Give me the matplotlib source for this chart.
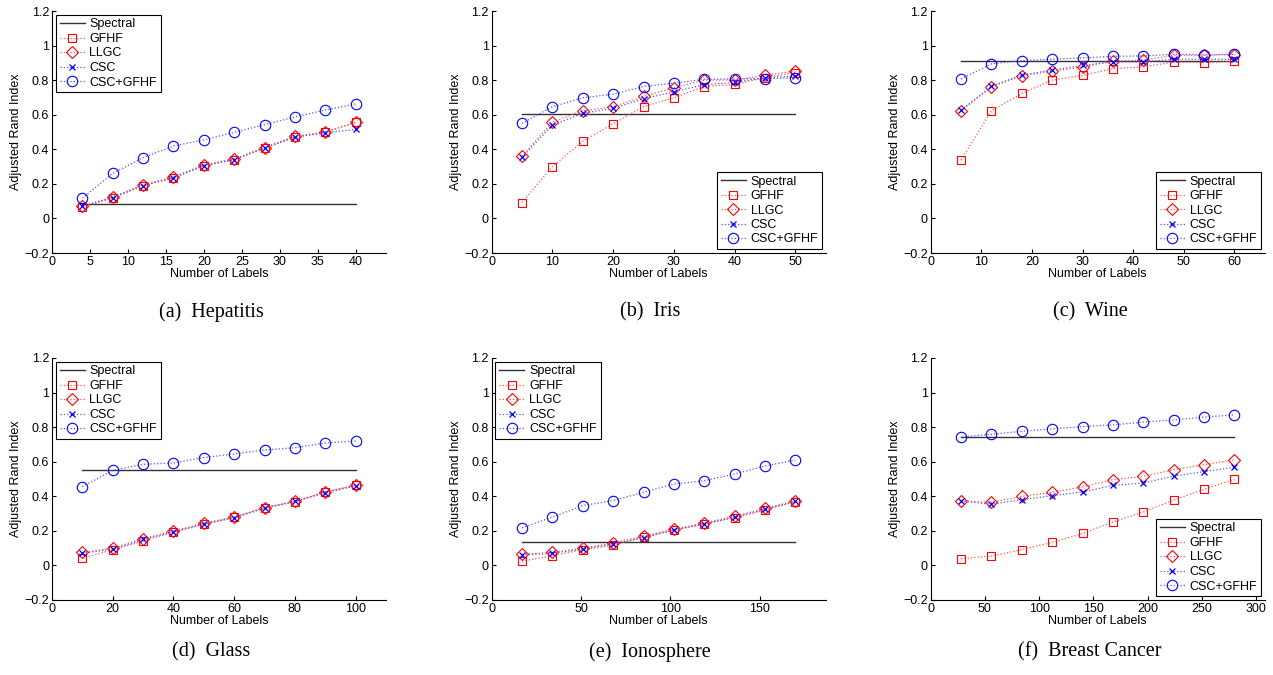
import matplotlib
matplotlib.use("Agg")
import matplotlib.pyplot as plt

plt.rcParams["font.family"] = ["Liberation Sans", "DejaVu Sans"]
plt.rcParams["font.size"] = 9

# Data
hep_x = [4, 8, 12, 16, 20, 24, 28, 32, 36, 40]
hep_spectral = 0.085
hep_gfhf = [0.065, 0.12, 0.19, 0.235, 0.305, 0.34, 0.405, 0.47, 0.50, 0.555]
hep_llgc = [0.07, 0.125, 0.195, 0.24, 0.31, 0.345, 0.41, 0.475, 0.50, 0.555]
hep_csc = [0.07, 0.12, 0.19, 0.235, 0.305, 0.34, 0.41, 0.47, 0.495, 0.515]
hep_cscg = [0.117, 0.26, 0.352, 0.419, 0.454, 0.498, 0.542, 0.587, 0.627, 0.662]

iris_x = [5, 10, 15, 20, 25, 30, 35, 40, 45, 50]
iris_spectral = 0.606
iris_gfhf = [0.092, 0.30, 0.446, 0.548, 0.646, 0.698, 0.763, 0.775, 0.815, 0.844]
iris_llgc = [0.36, 0.558, 0.623, 0.646, 0.706, 0.756, 0.80, 0.80, 0.829, 0.852]
iris_csc = [0.354, 0.54, 0.608, 0.637, 0.692, 0.733, 0.773, 0.787, 0.815, 0.823]
iris_cscg = [0.55, 0.646, 0.698, 0.719, 0.763, 0.783, 0.804, 0.808, 0.808, 0.815]

wine_x = [6, 12, 18, 24, 30, 36, 42, 48, 54, 60]
wine_spectral = 0.91
wine_gfhf = [0.337, 0.623, 0.723, 0.80, 0.827, 0.867, 0.877, 0.904, 0.902, 0.908]
wine_llgc = [0.621, 0.762, 0.825, 0.852, 0.875, 0.912, 0.915, 0.944, 0.944, 0.948]
wine_csc = [0.627, 0.765, 0.83, 0.858, 0.885, 0.906, 0.906, 0.921, 0.921, 0.92]
wine_cscg = [0.806, 0.894, 0.913, 0.921, 0.929, 0.938, 0.94, 0.95, 0.946, 0.95]

glass_x = [10, 20, 30, 40, 50, 60, 70, 80, 90, 100]
glass_spectral = 0.554
glass_gfhf = [0.042, 0.091, 0.141, 0.193, 0.237, 0.278, 0.334, 0.369, 0.425, 0.463]
glass_llgc = [0.075, 0.10, 0.155, 0.20, 0.245, 0.28, 0.335, 0.37, 0.425, 0.465]
glass_csc = [0.07, 0.095, 0.15, 0.195, 0.24, 0.275, 0.33, 0.37, 0.42, 0.46]
glass_cscg = [0.456, 0.55, 0.585, 0.593, 0.624, 0.645, 0.668, 0.681, 0.708, 0.72]

iono_x = [17, 34, 51, 68, 85, 102, 119, 136, 153, 170]
iono_spectral = 0.133
iono_gfhf = [0.025, 0.056, 0.091, 0.116, 0.164, 0.205, 0.239, 0.276, 0.32, 0.369]
iono_llgc = [0.065, 0.075, 0.10, 0.13, 0.17, 0.21, 0.245, 0.285, 0.33, 0.375]
iono_csc = [0.06, 0.07, 0.095, 0.125, 0.16, 0.205, 0.24, 0.28, 0.325, 0.37]
iono_cscg = [0.218, 0.28, 0.346, 0.375, 0.423, 0.471, 0.49, 0.529, 0.575, 0.61]

bc_x = [28, 56, 84, 112, 140, 168, 196, 224, 252, 280]
bc_spectral = 0.743
bc_gfhf = [0.039, 0.054, 0.091, 0.133, 0.185, 0.251, 0.309, 0.378, 0.44, 0.498]
bc_llgc = [0.373, 0.365, 0.40, 0.423, 0.454, 0.496, 0.515, 0.554, 0.583, 0.61]
bc_csc = [0.373, 0.354, 0.38, 0.404, 0.425, 0.463, 0.477, 0.516, 0.543, 0.568]
bc_cscg = [0.743, 0.759, 0.776, 0.79, 0.803, 0.813, 0.829, 0.842, 0.858, 0.871]

captions = ["(a)  Hepatitis", "(b)  Iris", "(c)  Wine",
            "(d)  Glass", "(e)  Ionosphere", "(f)  Breast Cancer"]
x_ticks = [range(0, 41, 5), range(0, 51, 10), range(0, 61, 10),
           range(0, 101, 20), range(0, 151, 50), range(0, 301, 50)]

panels = [
    (hep_x, hep_spectral, hep_gfhf, hep_llgc, hep_csc, hep_cscg, "upper left"),
    (iris_x, iris_spectral, iris_gfhf, iris_llgc, iris_csc, iris_cscg, "lower right"),
    (wine_x, wine_spectral, wine_gfhf, wine_llgc, wine_csc, wine_cscg, "lower right"),
    (glass_x, glass_spectral, glass_gfhf, glass_llgc, glass_csc, glass_cscg, "upper left"),
    (iono_x, iono_spectral, iono_gfhf, iono_llgc, iono_csc, iono_cscg, "upper left"),
    (bc_x, bc_spectral, bc_gfhf, bc_llgc, bc_csc, bc_cscg, "lower right"),
]

W, H = 1273, 675
fig = plt.figure(figsize=(W / 100, H / 100), dpi=100)

col_left = [52, 491.7, 930.7]
ax_w = 334
row_top = [11, 358]
ax_h = 242
cap_x = [211, 650, 1090]
cap_y = [312, 652]

for i, (x, spec, gfhf, llgc, csc, cscg, loc) in enumerate(panels):
    r, c = divmod(i, 3)
    ax = fig.add_axes([col_left[c] / W, 1 - (row_top[r] + ax_h) / H, ax_w / W, ax_h / H])
    ax.plot([x[0], x[-1]], [spec, spec], color="#333333", lw=1.0, label="Spectral")
    ax.plot(x, gfhf, ls=":", color="#ff5555", lw=0.9, marker="s", ms=6,
            mfc="none", mec="red", mew=0.8, label="GFHF")
    ax.plot(x, llgc, ls=":", color="#ff5555", lw=0.9, marker="D", ms=6.5,
            mfc="none", mec="red", mew=0.8, label="LLGC")
    ax.plot(x, csc, ls=":", color="#5555ff", lw=0.9, marker="x", ms=5,
            mec="blue", mew=0.9, label="CSC")
    ax.plot(x, cscg, ls=":", color="#5555ff", lw=0.9, marker="o", ms=7.5,
            mfc="none", mec="blue", mew=0.8, label="CSC+GFHF")

    ax.set_xlim(0, x[-1] * 1.1)
    ax.set_ylim(-0.2, 1.2)
    ax.set_xticks(list(x_ticks[i]))
    ax.set_yticks([-0.2, 0, 0.2, 0.4, 0.6, 0.8, 1, 1.2])
    ax.set_yticklabels(["\u22120.2", "0", "0.2", "0.4", "0.6", "0.8", "1", "1.2"])
    ax.spines["top"].set_visible(False)
    ax.spines["right"].set_visible(False)
    for s in ("left", "bottom"):
        ax.spines[s].set_linewidth(0.8)
    ax.tick_params(direction="in", length=3, width=0.8, pad=2, labelsize=9)
    ax.set_xlabel("Number of Labels", fontsize=9, labelpad=0)
    ax.set_ylabel("Adjusted Rand Index", fontsize=9, labelpad=2)

    leg = ax.legend(loc=loc, fontsize=9, fancybox=False, framealpha=1,
                    edgecolor="black", handlelength=2.0, borderaxespad=0.3,
                    labelspacing=0.2, handletextpad=0.4, borderpad=0.3)
    leg.get_frame().set_linewidth(0.8)

    fig.text(cap_x[c] / W, 1 - cap_y[r] / H, captions[i], ha="center", va="center",
             fontsize=14.5, family=["Liberation Serif", "DejaVu Serif"])

fig.savefig("out.png", dpi=100)
